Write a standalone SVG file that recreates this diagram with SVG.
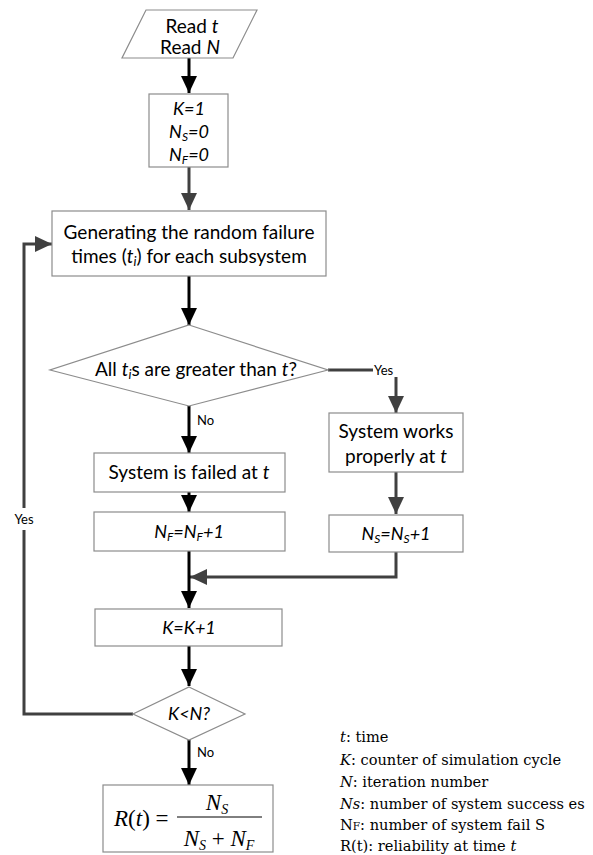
<svg xmlns="http://www.w3.org/2000/svg" width="593" height="855" viewBox="0 0 593 855">
<style>
.box{fill:#fff;stroke:#8c8c8c;stroke-width:1.2}
.t{font-family:Lato,"Liberation Sans",sans-serif;font-size:19px;fill:#000;text-anchor:middle}
.s{font-size:18px}
.i{font-style:italic}
.lbl{font-family:Lato,"Liberation Sans",sans-serif;font-size:13px;fill:#000}
.cb{fill:none;stroke:#000;stroke-width:3}
.cg{fill:none;stroke:#404040;stroke-width:3}
.m{font-family:"Liberation Serif","Times New Roman",serif;font-size:23px;fill:#000}
.lg{font-family:"DejaVu Serif","Liberation Serif",serif;font-size:14.6px;fill:#000}
</style>
<defs>
<marker id="ab" viewBox="0 0 17 16" refX="17" refY="8" markerWidth="17" markerHeight="16" orient="auto" markerUnits="userSpaceOnUse"><path d="M0,0 L17,8 L0,16 z" fill="#000"/></marker>
<marker id="ag" viewBox="0 0 17 16" refX="17" refY="8" markerWidth="17" markerHeight="16" orient="auto" markerUnits="userSpaceOnUse"><path d="M0,0 L17,8 L0,16 z" fill="#404040"/></marker>
</defs>

<g id="connectors">
<path class="cb" d="M189,58 V93" marker-end="url(#ab)"/>
<path class="cg" d="M189,167 V210" marker-end="url(#ag)"/>
<path class="cb" d="M189,276 V325" marker-end="url(#ab)"/>
<path class="cg" d="M328,370 H373"/>
<text class="lbl" x="374" y="375">Yes</text>
<path class="cg" d="M396,377 V413" marker-end="url(#ag)"/>
<path class="cg" d="M396,472 V514" marker-end="url(#ag)"/>
<path class="cg" d="M396,552 V577 H190" marker-end="url(#ag)"/>
<path class="cb" d="M189,406 V453" marker-end="url(#ab)"/>
<text class="lbl" x="197" y="425">No</text>
<path class="cb" d="M189,492 V512" marker-end="url(#ab)"/>
<path class="cb" d="M189,551 V608" marker-end="url(#ab)"/>
<path class="cb" d="M189,646 V686" marker-end="url(#ab)"/>
<path class="cg" d="M133,714 H24 V244 H52" marker-end="url(#ag)"/>
<rect x="12" y="508" width="24" height="22" fill="#fff"/>
<text class="lbl" x="24" y="524" text-anchor="middle">Yes</text>
<path class="cb" d="M189,740 V785" marker-end="url(#ab)"/>
<text class="lbl" x="197" y="757">No</text>
</g>

<g id="read">
<polygon class="box" points="146,10 257,10 233,58 122,58"/>
<text class="t" x="192" y="33">Read <tspan class="i">t</tspan></text>
<text class="t" x="190" y="54">Read <tspan class="i">N</tspan></text>
</g>

<g id="init">
<rect class="box" x="149" y="94" width="79" height="73"/>
<text class="t s i" x="189" y="115">K=1</text>
<text class="t s i" x="189" y="138">N<tspan font-size="12" dy="3">S</tspan><tspan dy="-3">=0</tspan></text>
<text class="t s i" x="189" y="161">N<tspan font-size="12" dy="3">F</tspan><tspan dy="-3">=0</tspan></text>
</g>

<g id="generate">
<rect class="box" x="52" y="211" width="274" height="65"/>
<text class="t" x="189" y="239">Generating the random failure</text>
<text class="t" x="189" y="263">times (<tspan class="i">t</tspan><tspan class="i" font-size="13" dy="3">i</tspan><tspan dy="-3">) for each subsystem</tspan></text>
</g>

<g id="check">
<polygon class="box" points="189,325 328,370 189,406 50,370"/>
<text class="t" x="196" y="376">All  <tspan class="i">t</tspan><tspan class="i" font-size="13" dy="3">i</tspan><tspan dy="-3">s are greater than </tspan><tspan class="i">t</tspan>?</text>
</g>

<g id="works">
<rect class="box" x="329" y="413" width="134" height="59"/>
<text class="t" x="396" y="438">System works</text>
<text class="t" x="396" y="463">properly at <tspan class="i">t</tspan></text>
</g>

<g id="ns">
<rect class="box" x="329" y="515" width="134" height="37"/>
<text class="t s i" x="396" y="540">N<tspan font-size="12" dy="3">S</tspan><tspan dy="-3">=N</tspan><tspan font-size="12" dy="3">S</tspan><tspan dy="-3">+1</tspan></text>
</g>

<g id="failed">
<rect class="box" x="94" y="453" width="191" height="39"/>
<text class="t" x="189" y="479">System is failed at  <tspan class="i">t</tspan></text>
</g>

<g id="nf">
<rect class="box" x="94" y="512" width="191" height="39"/>
<text class="t s i" x="189" y="538">N<tspan font-size="12" dy="3">F</tspan><tspan dy="-3">=N</tspan><tspan font-size="12" dy="3">F</tspan><tspan dy="-3">+1</tspan></text>
</g>

<g id="inc">
<rect class="box" x="95" y="609" width="187" height="37"/>
<text class="t s i" x="189" y="634">K=K+1</text>
</g>

<g id="loop">
<polygon class="box" points="189,687 245,714 189,740 133,714"/>
<text class="t s i" x="189" y="720">K&lt;N?</text>
</g>

<g id="result">
<rect class="box" x="103" y="785" width="170" height="67"/>
<text class="m" x="114" y="826"><tspan font-style="italic">R</tspan>(<tspan font-style="italic">t</tspan>) =</text>
<line x1="177" y1="817" x2="262" y2="817" stroke="#000" stroke-width="1"/>
<text class="m" x="217" y="810" text-anchor="middle" font-style="italic">N<tspan font-size="14" dy="4">S</tspan></text>
<text class="m" x="219" y="846" text-anchor="middle"><tspan font-style="italic">N</tspan><tspan font-size="14" font-style="italic" dy="4">S</tspan><tspan dy="-4"> + </tspan><tspan font-style="italic">N</tspan><tspan font-size="14" font-style="italic" dy="4">F</tspan></text>
</g>

<g id="legend">
<text class="lg" x="340" y="742"><tspan font-style="italic">t</tspan>: time</text>
<text class="lg" x="340" y="765"><tspan font-style="italic">K</tspan>: counter of simulation cycle</text>
<text class="lg" x="340" y="787"><tspan font-style="italic">N</tspan>: iteration number</text>
<text class="lg" x="340" y="809"><tspan font-style="italic">Ns</tspan>: number of system success es</text>
<text class="lg" x="340" y="830">N<tspan font-size="10.5">F</tspan>: number of system fail S</text>
<text class="lg" x="340" y="851">R(t): reliability at time <tspan font-style="italic">t</tspan></text>
</g>
</svg>
